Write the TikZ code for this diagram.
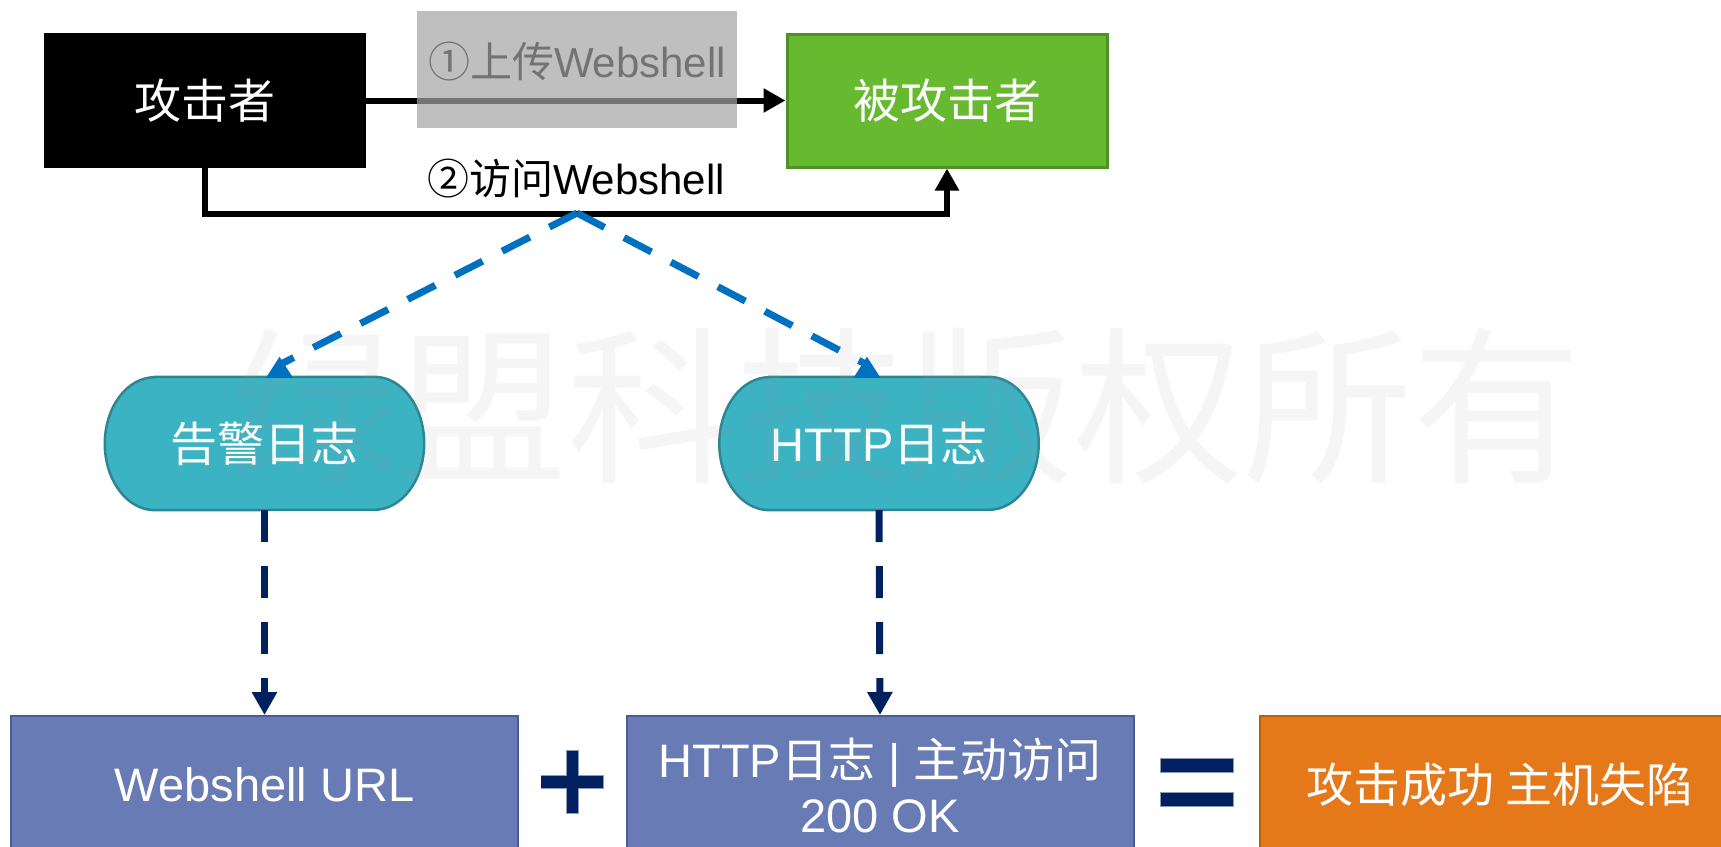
\documentclass[tikz,border=0pt]{standalone}
\usepackage{fontspec}
\setmainfont{Liberation Sans}
\newfontfamily\cjk{Noto Sans CJK SC}
\usetikzlibrary{arrows.meta,calc,backgrounds}

\definecolor{vicgreen}{HTML}{67B92F}
\definecolor{vicgreenb}{HTML}{4E9126}
\definecolor{pillteal}{HTML}{3CB3C3}
\definecolor{pilltealb}{HTML}{2D8793}
\definecolor{logblue}{HTML}{687BB4}
\definecolor{logblueb}{HTML}{4A5C96}
\definecolor{resorange}{HTML}{E57819}
\definecolor{resorangeb}{HTML}{B8600F}
\definecolor{navy}{HTML}{002060}
\definecolor{flowblue}{HTML}{0070C0}
\definecolor{veil}{HTML}{A5A5A5}

% flowchart terminator outline behind a named node
\newcommand\terminator[1]{%
  \filldraw[fill=pillteal, draw=pilltealb, line width=2.5pt]
    ($(#1.north west)+(50pt,0)$) -- ($(#1.north east)-(50pt,0)$)
    arc[start angle=90, end angle=-90, x radius=50pt, y radius=66.5pt]
    -- ($(#1.south west)+(50pt,0)$)
    arc[start angle=270, end angle=90, x radius=50pt, y radius=66.5pt]
    -- cycle;}

\begin{document}
\begin{tikzpicture}[x=1pt, y=-1pt,
  big/.style={font=\fontsize{47}{55}\selectfont},
  box/.style={big, draw, line width=2pt, minimum width=320pt, minimum height=133pt,
    inner sep=0pt, text=white, align=center},
  logbox/.style={big, fill=logblue, draw=logblueb, line width=2pt, minimum width=507pt,
    minimum height=138pt, inner sep=0pt, text=white, align=center},
  pillnode/.style={big, minimum width=319pt, minimum height=133pt, inner sep=0pt, text=white},
  lbl/.style={font=\fontsize{42}{48}\selectfont, inner sep=0pt},
  conn/.style={line width=6pt, -{Triangle[width=23pt,length=22pt]}},
  fork/.style={flowblue, line width=7pt, dash pattern=on 31pt off 22pt},
  forktip/.style={fill=flowblue},
  feed/.style={navy, line width=7pt, dash pattern=on 32pt off 24pt,
    -{Triangle[width=24pt,length=23pt]}},
  sym/.style={fill=navy, draw=navy!45!white, line width=0.8pt},
  wm/.style={font=\fontsize{169}{169}\selectfont, text=black!40, text opacity=0.09}
]
\clip (0,0) rectangle (1721,846);
\begin{scope}[on background layer]
  \fill[white] (0,0) rectangle (1721,846);
\end{scope}

% attacker and victim
\node[box, fill=black, draw=black] (atk) at (205,100.5) {\cjk 攻击者};
\node[box, fill=vicgreen, draw=vicgreenb, line width=3pt] (vic) at (947,100.5) {\cjk 被攻击者};

% step 1: upload, greyed out
\node[lbl] (upload) at (577,62) {{\cjk ①上传}Webshell};
\draw[conn] (atk.east) -- (vic.west);
\node[fill=veil, opacity=0.7, minimum width=320pt, minimum height=117pt, inner sep=0pt]
  (veilbox) at (577,69.5) {};

% step 2: access
\node[lbl] (access) at (576,179) {{\cjk ②访问}Webshell};
\draw[conn] (atk.south) -- ++(0,46) -| (vic.south);
\coordinate (apex) at (577,213);

% log sources
\node[pillnode] (alert) at (264.5,443.5) {\cjk 告警日志};
\node[pillnode] (httplog) at (879,443.5) {HTTP{\cjk 日志}};
\begin{scope}[on background layer]
  \terminator{alert}
  \terminator{httplog}
\end{scope}

% watermark
\node[wm] (mark) at (905,407) {\cjk 绿盟科技版权所有};

% fork from the access line to both logs
\draw[fork] (apex) -- ($(alert.north)+(15,-12)$);
\fill[forktip] ($(alert.north)+(1.5,1)$) -- ++(13.5,-21) -- ++(13.5,21) -- cycle;
\draw[fork] (apex) -- ($(httplog.north)+(-12,-12)$);
\fill[forktip] ($(httplog.north)+(-25.5,1)$) -- ++(13.5,-21) -- ++(13.5,21) -- cycle;

% evidence boxes
\node[logbox] (url) at (264.5,785) {Webshell URL};
\node[logbox] (okhit) at (880,785) {HTTP{\cjk 日志} | {\cjk 主动访问}\\200 OK};
\node[big, fill=resorange, draw=resorangeb, line width=2pt, minimum width=480pt,
  minimum height=138pt, inner sep=0pt, text=white] (owned) at (1500,785) {\cjk 攻击成功 主机失陷};

\draw[feed] (alert.south) -- (url.north);
\draw[feed] (httplog.south) -- (okhit.north);

% plus and equals signs
\coordinate (plus) at (572,782);
\filldraw[sym] ($(plus)+(-31,-6.3)$) rectangle ($(plus)+(31,6.3)$);
\filldraw[sym] ($(plus)+(-6,-32)$) rectangle ($(plus)+(6,31)$);
\fill[navy] ($(plus)+(-30.6,-5.9)$) rectangle ($(plus)+(30.6,5.9)$);
\coordinate (equals) at (1197,782);
\filldraw[sym] ($(equals)+(-36.5,-24)$) rectangle ($(equals)+(36.5,-10)$);
\filldraw[sym] ($(equals)+(-36.5,10)$) rectangle ($(equals)+(36.5,24.5)$);
\end{tikzpicture}
\end{document}
